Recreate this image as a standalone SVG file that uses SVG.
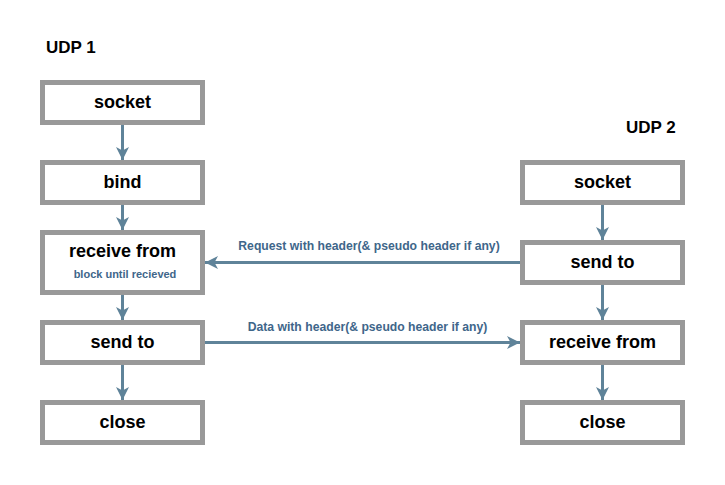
<svg xmlns="http://www.w3.org/2000/svg" width="725" height="485" viewBox="0 0 725 485">
<style>
.box{fill:#ffffff;stroke:#999999;stroke-width:5}
.lbl{font-family:"Liberation Sans",Arial,sans-serif;font-weight:bold;font-size:18px;fill:#000000;text-anchor:middle}
.ttl{font-family:"Liberation Sans",Arial,sans-serif;font-weight:bold;font-size:17px;fill:#000000}
.sub{font-family:"Liberation Sans",Arial,sans-serif;font-weight:bold;font-size:11px;fill:#40668a;text-anchor:middle}
.el{font-family:"Liberation Sans",Arial,sans-serif;font-weight:bold;font-size:12.2px;fill:#40668a;text-anchor:middle}
.con{stroke:#5f8399;stroke-width:3;fill:none;marker-end:url(#ah)}
</style>
<defs>
<marker id="ah" markerUnits="userSpaceOnUse" markerWidth="14" markerHeight="14" viewBox="0 0 14 14" refX="13" refY="7" orient="auto">
<path d="M0,0.5 L13,7 L0,13.5 L3.5,7 Z" fill="#5f8399"/>
</marker>
</defs>
<rect width="725" height="485" fill="#ffffff"/>
<text class="ttl" x="46" y="53">UDP 1</text>
<text class="ttl" x="626" y="133">UDP 2</text>
<g id="connectors">
<line class="con" x1="122.5" y1="125" x2="122.5" y2="160"/>
<line class="con" x1="122.5" y1="205" x2="122.5" y2="230"/>
<line class="con" x1="122.5" y1="295" x2="122.5" y2="320"/>
<line class="con" x1="122.5" y1="365" x2="122.5" y2="400"/>
<line class="con" x1="602.5" y1="205" x2="602.5" y2="240"/>
<line class="con" x1="602.5" y1="285" x2="602.5" y2="320"/>
<line class="con" x1="602.5" y1="365" x2="602.5" y2="400"/>
<line class="con" x1="520" y1="262.5" x2="205" y2="262.5"/>
<line class="con" x1="205" y1="342.5" x2="520" y2="342.5"/>
<text class="el" x="369" y="250">Request with header(&amp; pseudo header if any)</text>
<text class="el" x="367.5" y="331">Data with header(&amp; pseudo header if any)</text>
</g>
<g id="l-socket"><rect class="box" x="42.5" y="82.5" width="160" height="40"/><text class="lbl" x="122.5" y="107.5">socket</text></g>
<g id="l-bind"><rect class="box" x="42.5" y="162.5" width="160" height="40"/><text class="lbl" x="122.5" y="187.5">bind</text></g>
<g id="l-receive"><rect class="box" x="42.5" y="232.5" width="160" height="60"/><text class="lbl" x="122.5" y="256.5">receive from</text><text class="sub" x="125" y="278">block until recieved</text></g>
<g id="l-send"><rect class="box" x="42.5" y="322.5" width="160" height="40"/><text class="lbl" x="122.5" y="347.5">send to</text></g>
<g id="l-close"><rect class="box" x="42.5" y="402.5" width="160" height="40"/><text class="lbl" x="122.5" y="427.5">close</text></g>
<g id="r-socket"><rect class="box" x="522.5" y="162.5" width="160" height="40"/><text class="lbl" x="602.5" y="187.5">socket</text></g>
<g id="r-send"><rect class="box" x="522.5" y="242.5" width="160" height="40"/><text class="lbl" x="602.5" y="267.5">send to</text></g>
<g id="r-receive"><rect class="box" x="522.5" y="322.5" width="160" height="40"/><text class="lbl" x="602.5" y="347.5">receive from</text></g>
<g id="r-close"><rect class="box" x="522.5" y="402.5" width="160" height="40"/><text class="lbl" x="602.5" y="427.5">close</text></g>
</svg>
